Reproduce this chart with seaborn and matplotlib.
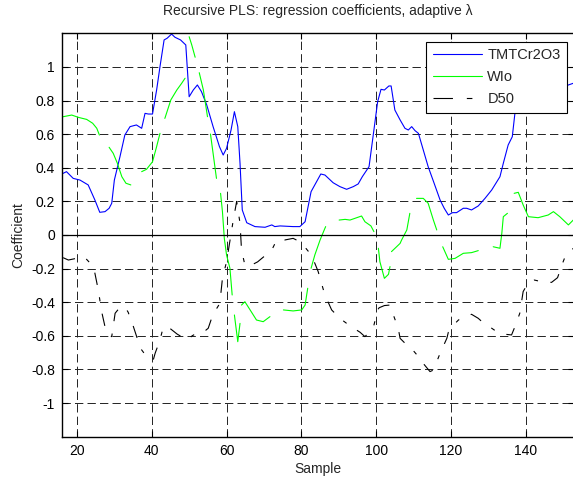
import numpy as np
import pandas as pd
import matplotlib
matplotlib.use("Agg")
import matplotlib.pyplot as plt
from matplotlib.lines import Line2D
import seaborn as sns

# TMTCr2O3 (blue)
tmt_x = [16.3, 17.2, 19, 20.8, 23, 24.8, 26.1, 27.5, 28.6, 29.3, 30, 31.5, 32.8, 34.2, 35.9, 37.3,
         38.2, 39.1, 40.2, 41.3, 42.2, 43.3, 44.1, 45.3, 46.2, 47.7, 49.1, 50, 51.1, 52.2, 53.3,
         54.7, 56.4, 58.1, 59.1, 60, 61.2, 62.1, 63, 63.6, 64.2, 65.4, 67.6, 70.3, 72.1, 72.9,
         74.3, 77.8, 79.6, 81, 82.6, 85.2, 86.3, 88.5, 90.3, 92.1, 93.9, 95.2, 96.3, 98.1, 99.4,
         100.4, 101.3, 102.2, 103.4, 104, 105, 106.4, 107.7, 108.6, 109.5, 110.4, 111.3, 112.6,
         113.9, 115.5, 117.1, 118.2, 119.3, 120.4, 121.5, 123.3, 124.2, 125.5, 127.3, 129.1,
         130.9, 133.1, 134, 135.3, 136.4, 137.1, 138.5, 140, 142, 144, 146, 148, 150, 151.4, 152.7]
tmt_y = [0.367, 0.377, 0.337, 0.327, 0.298, 0.208, 0.135, 0.139, 0.159, 0.189, 0.327, 0.466, 0.595,
         0.645, 0.655, 0.635, 0.724, 0.72, 0.72, 0.863, 1.002, 1.161, 1.171, 1.196, 1.177, 1.161,
         1.131, 0.823, 0.863, 0.893, 0.853, 0.774, 0.645, 0.526, 0.476, 0.516, 0.625, 0.734, 0.645,
         0.427, 0.149, 0.073, 0.05, 0.046, 0.06, 0.05, 0.054, 0.05, 0.05, 0.079, 0.258, 0.363, 0.357,
         0.311, 0.288, 0.272, 0.288, 0.304, 0.347, 0.407, 0.625, 0.794, 0.867, 0.863, 0.887, 0.887,
         0.744, 0.685, 0.635, 0.625, 0.645, 0.621, 0.605, 0.506, 0.407, 0.308, 0.208, 0.159, 0.119,
         0.133, 0.133, 0.159, 0.159, 0.149, 0.173, 0.218, 0.268, 0.347, 0.427, 0.536, 0.585, 0.724,
         0.80, 0.86, 0.89, 0.90, 0.89, 0.88, 0.88, 0.893, 0.903]

# WIo (green), None = missing sample (gap in the line)
wio_x = [16.3, 18.6, 20.4, 22.6, 24.2, 25.3, 26, None,
         28.6, 29.7, 30.8, 32, 33.1, 34.4, None,
         37.3, 38.6, 40.2, 41.3, 42.2, None,
         43.5, 45.1, 46.7, 48, 48.9, None,
         50, 50.7, 51.6, None,
         52.7, 53.8, 54.9, None,
         55.7, 56.4, 57.3, None,
         58.4, 58.9, 59.4, 60, 60.9, 61.5, None,
         62.1, 63, 63.6, None,
         64, 64.9, 66.3, 68, 69.8, 71.6, None,
         75.2, 77.8, 80.1, 81, 81.7, None,
         82.6, 83.6, 85, 86.3, 86.5, None,
         90.1, 91.7, 93, 94.3, 96.1, 97, 98.6, 99.4, None,
         100.6, 101, 102.2, 103.3, 103.7, None,
         104.1, 106.4, 106.8, 108.2, 109, None,
         110.8, 112.6, 113.9, 115.3, 116.2, None,
         117.8, 119.3, 121.1, 123.3, 125.5, 127.3, None,
         131.3, 133.1, 133.6, 134, 135.1, None,
         136.9, 138, 139.3, 140.7, 143.3, 146, 147.4, 149.1, 151.4, 152.7]
wio_y = [0.704, 0.714, 0.70, 0.688, 0.665, 0.635, 0.595, None,
         0.522, 0.486, 0.427, 0.347, 0.308, 0.298, None,
         0.377, 0.391, 0.436, 0.526, 0.605, None,
         0.694, 0.804, 0.863, 0.903, 0.933, None,
         1.18, 1.131, 1.058, None,
         0.966, 0.863, 0.704, None,
         0.601, 0.486, 0.337, None,
         0.248, 0.139, -0.02, -0.119, -0.198, -0.357, None,
         -0.476, -0.635, -0.526, None,
         -0.417, -0.397, -0.446, -0.506, -0.516, -0.486, None,
         -0.446, -0.452, -0.446, -0.417, -0.317, None,
         -0.198, -0.119, -0.03, 0.04, 0.05, None,
         0.089, 0.093, 0.089, 0.099, 0.113, 0.079, 0.054, 0.02, None,
         -0.079, -0.159, -0.258, -0.234, -0.188, None,
         -0.099, -0.05, -0.03, 0.03, 0.129, None,
         0.218, 0.218, 0.189, 0.089, 0.03, None,
         -0.07, -0.145, -0.139, -0.109, -0.105, -0.093, None,
         -0.07, -0.079, 0.01, 0.109, 0.129, None,
         0.248, 0.254, 0.179, 0.109, 0.103, 0.119, 0.139, 0.109, 0.06, 0.089]

# D50 (black, dash-dot)
d50_x = [16.3, 17.7, 19, 21.9, 24.4, 24.8, 25.7, 26.6, 27.5, 28.4, 29.3, 30.2, 31.5, 32.8, 33.7,
         35.1, 37, 38.5, 40.4, 40.9, 42.2, 43.1, 43.8, 45.1, 46.8, 48.4, 49.5, 50.8, 52, 53.8,
         55.1, 56.3, 58.2, 58.9, 60, 61.8, 62.7, 63.6, 64, 64.9, 66.3, 68.3, 70.3, 72.1, 73.4,
         75.5, 77.8, 78.7, 80.5, 82.3, 83.6, 84.5, 85.9, 86.3, 88.1, 90.3, 92.1, 94, 95.7, 97,
         99.2, 100.4, 100.8, 102.2, 103.7, 104.6, 105.9, 106.4, 108.2, 110, 111.3, 112.2, 114.4,
         115.3, 117.1, 118.9, 119.3, 120.5, 122, 123.7, 125.5, 127.3, 129, 130.9, 132.2, 134.2,
         136.2, 137.1, 138.4, 139.3, 140.5, 142.3, 144.2, 146.9, 148.5, 150, 150.7, 152.7]
d50_y = [-0.135, -0.149, -0.143, -0.129, -0.188, -0.228, -0.327, -0.456, -0.546, -0.595, -0.605,
         -0.466, -0.43, -0.427, -0.46, -0.546, -0.675, -0.72, -0.744, -0.704, -0.625, -0.546,
         -0.555, -0.56, -0.59, -0.611, -0.625, -0.6, -0.585, -0.579, -0.555, -0.476, -0.407,
         -0.258, -0.159, 0.089, 0.2, 0.07, -0.089, -0.179, -0.183, -0.16, -0.123, -0.089, -0.03,
         -0.03, -0.02, -0.03, -0.06, -0.109, -0.168, -0.218, -0.327, -0.357, -0.446, -0.496,
         -0.526, -0.555, -0.579, -0.605, -0.555, -0.446, -0.433, -0.42, -0.417, -0.476, -0.555,
         -0.615, -0.655, -0.69, -0.724, -0.754, -0.813, -0.804, -0.704, -0.615, -0.579, -0.54,
         -0.506, -0.486, -0.472, -0.496, -0.53, -0.555, -0.575, -0.59, -0.595, -0.546, -0.466,
         -0.337, -0.29, -0.268, -0.278, -0.282, -0.254, -0.159, -0.119, -0.08]

x_ticks = [20, 40, 60, 80, 100, 120, 140]
y_ticks = [-1, -0.8, -0.6, -0.4, -0.2, 0, 0.2, 0.4, 0.6, 0.8, 1]
y_tick_labels = ['-1', '-0.8', '-0.6', '-0.4', '-0.2', '0', '0.2', '0.4', '0.6', '0.8', '1']

sns.set_style("white")
plt.rcParams['font.family'] = ['Liberation Sans', 'DejaVu Sans']
plt.rcParams['axes.unicode_minus'] = False
plt.rcParams['lines.scale_dashes'] = False

fig = plt.figure(figsize=(5.73, 4.79), dpi=100)
ax = fig.add_axes([0.1082, 0.0885, 0.8942, 0.8418])

blue = '#0000ff'
green = '#00ff00'
d50_style = (0, (9, 9, 3, 9))

df_t = pd.DataFrame({'Sample': tmt_x, 'Coefficient': tmt_y})
df_w = pd.DataFrame({'Sample': wio_x, 'Coefficient': wio_y}, dtype=float)
df_w['seg'] = df_w['Coefficient'].isna().cumsum()
df_w = df_w.dropna()
df_d = pd.DataFrame({'Sample': d50_x, 'Coefficient': d50_y})

sns.lineplot(data=df_t, x='Sample', y='Coefficient', color=blue, lw=0.8, ax=ax, legend=False)
sns.lineplot(data=df_w, x='Sample', y='Coefficient', units='seg', estimator=None,
             color=green, lw=0.8, ax=ax, legend=False)
sns.lineplot(data=df_d, x='Sample', y='Coefficient', color='k', lw=0.8,
             linestyle=d50_style, ax=ax, legend=False)
ax.axhline(0, color='k', lw=0.9)

ax.set_xlim(16, 153)
ax.set_ylim(-1.2, 1.2)
ax.set_xticks(x_ticks)
ax.set_xticklabels([str(t) for t in x_ticks])
ax.set_yticks(y_ticks)
ax.set_yticklabels(y_tick_labels)
ax.grid(True, color='#222222', linestyle=(0, (6, 3)), lw=0.7)
ax.tick_params(direction='in', length=4, width=0.8, top=True, right=True,
               bottom=True, left=True, labelsize=10, colors='k', pad=5)
for s in ax.spines.values():
    s.set_color('k')
    s.set_linewidth(1.0)

ax.set_xlabel('Sample', fontsize=10, labelpad=3)
ax.set_ylabel('Coefficient', fontsize=10, labelpad=4)
ax.set_title('Recursive PLS: regression coefficients, adaptive λ', fontsize=10, pad=13)

handles = [Line2D([], [], color=blue, lw=0.8),
           Line2D([], [], color=green, lw=0.8),
           Line2D([], [], color='k', lw=0.8, linestyle=(0, (14, 10, 4, 10)))]
leg = ax.legend(handles, ['TMTCr2O3', 'WIo', 'D50'], loc='upper right',
                bbox_to_anchor=(0.986, 0.979), borderaxespad=0, fontsize=10.5,
                handlelength=3.4, handletextpad=0.35, labelspacing=0.55,
                borderpad=0.45, fancybox=False, framealpha=1, edgecolor='k')
leg.get_frame().set_linewidth(0.8)

fig.savefig('out.png', dpi=100)
